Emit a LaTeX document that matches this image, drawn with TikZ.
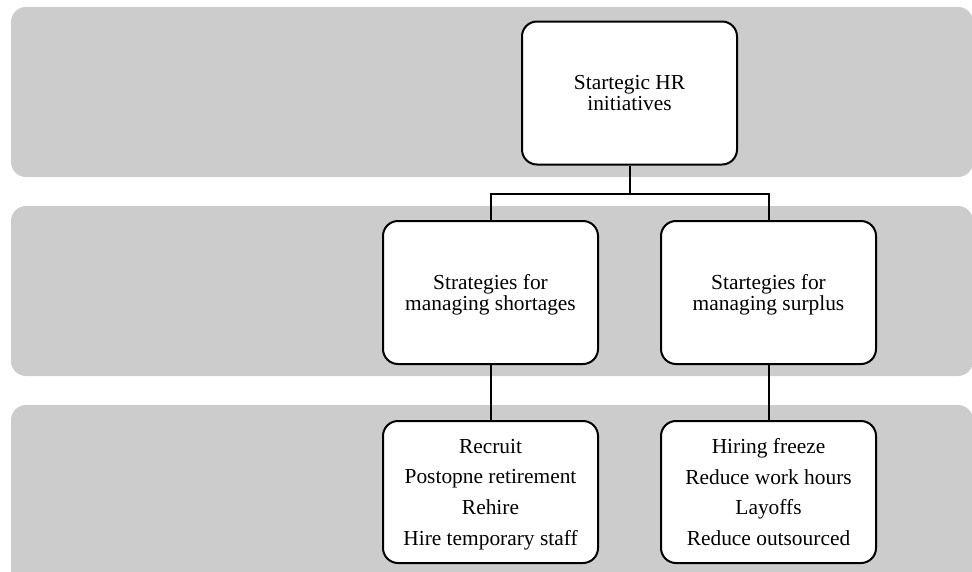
\documentclass[tikz,border=0pt]{standalone}
\usepackage{fontspec}
\setmainfont{Liberation Serif}
\usetikzlibrary{calc}
\begin{document}
\begin{tikzpicture}[x=1pt,y=-1pt,
  band/.style={fill=bandgray,draw=none,rounded corners=15pt},
  box/.style={draw=black,line width=2pt,fill=white,rounded corners=15pt,
    minimum width=215pt,minimum height=143pt,align=center,inner sep=0pt,
    font=\fontsize{21.4}{21.5}\selectfont},
  listbox/.style={box,minimum height=142pt,font=\fontsize{21.4}{30.7}\selectfont},
  conn/.style={line width=2pt}]
\definecolor{bandgray}{HTML}{CCCCCC}
\useasboundingbox (0,0) rectangle (972,571);
\fill[band] (11,7) rectangle (973,177);
\fill[band] (11,206) rectangle (973,376);
\fill[band] (11,405) rectangle (973,590);
\node[box] (top) at (629.5,93) {Startegic HR\\\smash{initiatives}};
\node[box] (ml) at (490.5,292.5) {Strategies for\\\smash{managing shortages}};
\node[box] (mr) at (768.5,292.5) {Startegies for\\\smash{managing surplus}};
\node[listbox] (bl) at (490.5,492) {Recruit\\Postopne retirement\\Rehire\\\smash{Hire temporary staff}};
\node[listbox] (br) at (768.5,492) {Hiring freeze\\Reduce work hours\\Layoffs\\\smash{Reduce outsourced}};
\coordinate (split) at ($(top.south)+(0,28)$);
\draw[conn] (top.south) -- (split);
\draw[conn] (split) -| (ml.north);
\draw[conn] (split) -| (mr.north);
\draw[conn] (ml.south) -- (bl.north);
\draw[conn] (mr.south) -- (br.north);
\end{tikzpicture}
\end{document}
